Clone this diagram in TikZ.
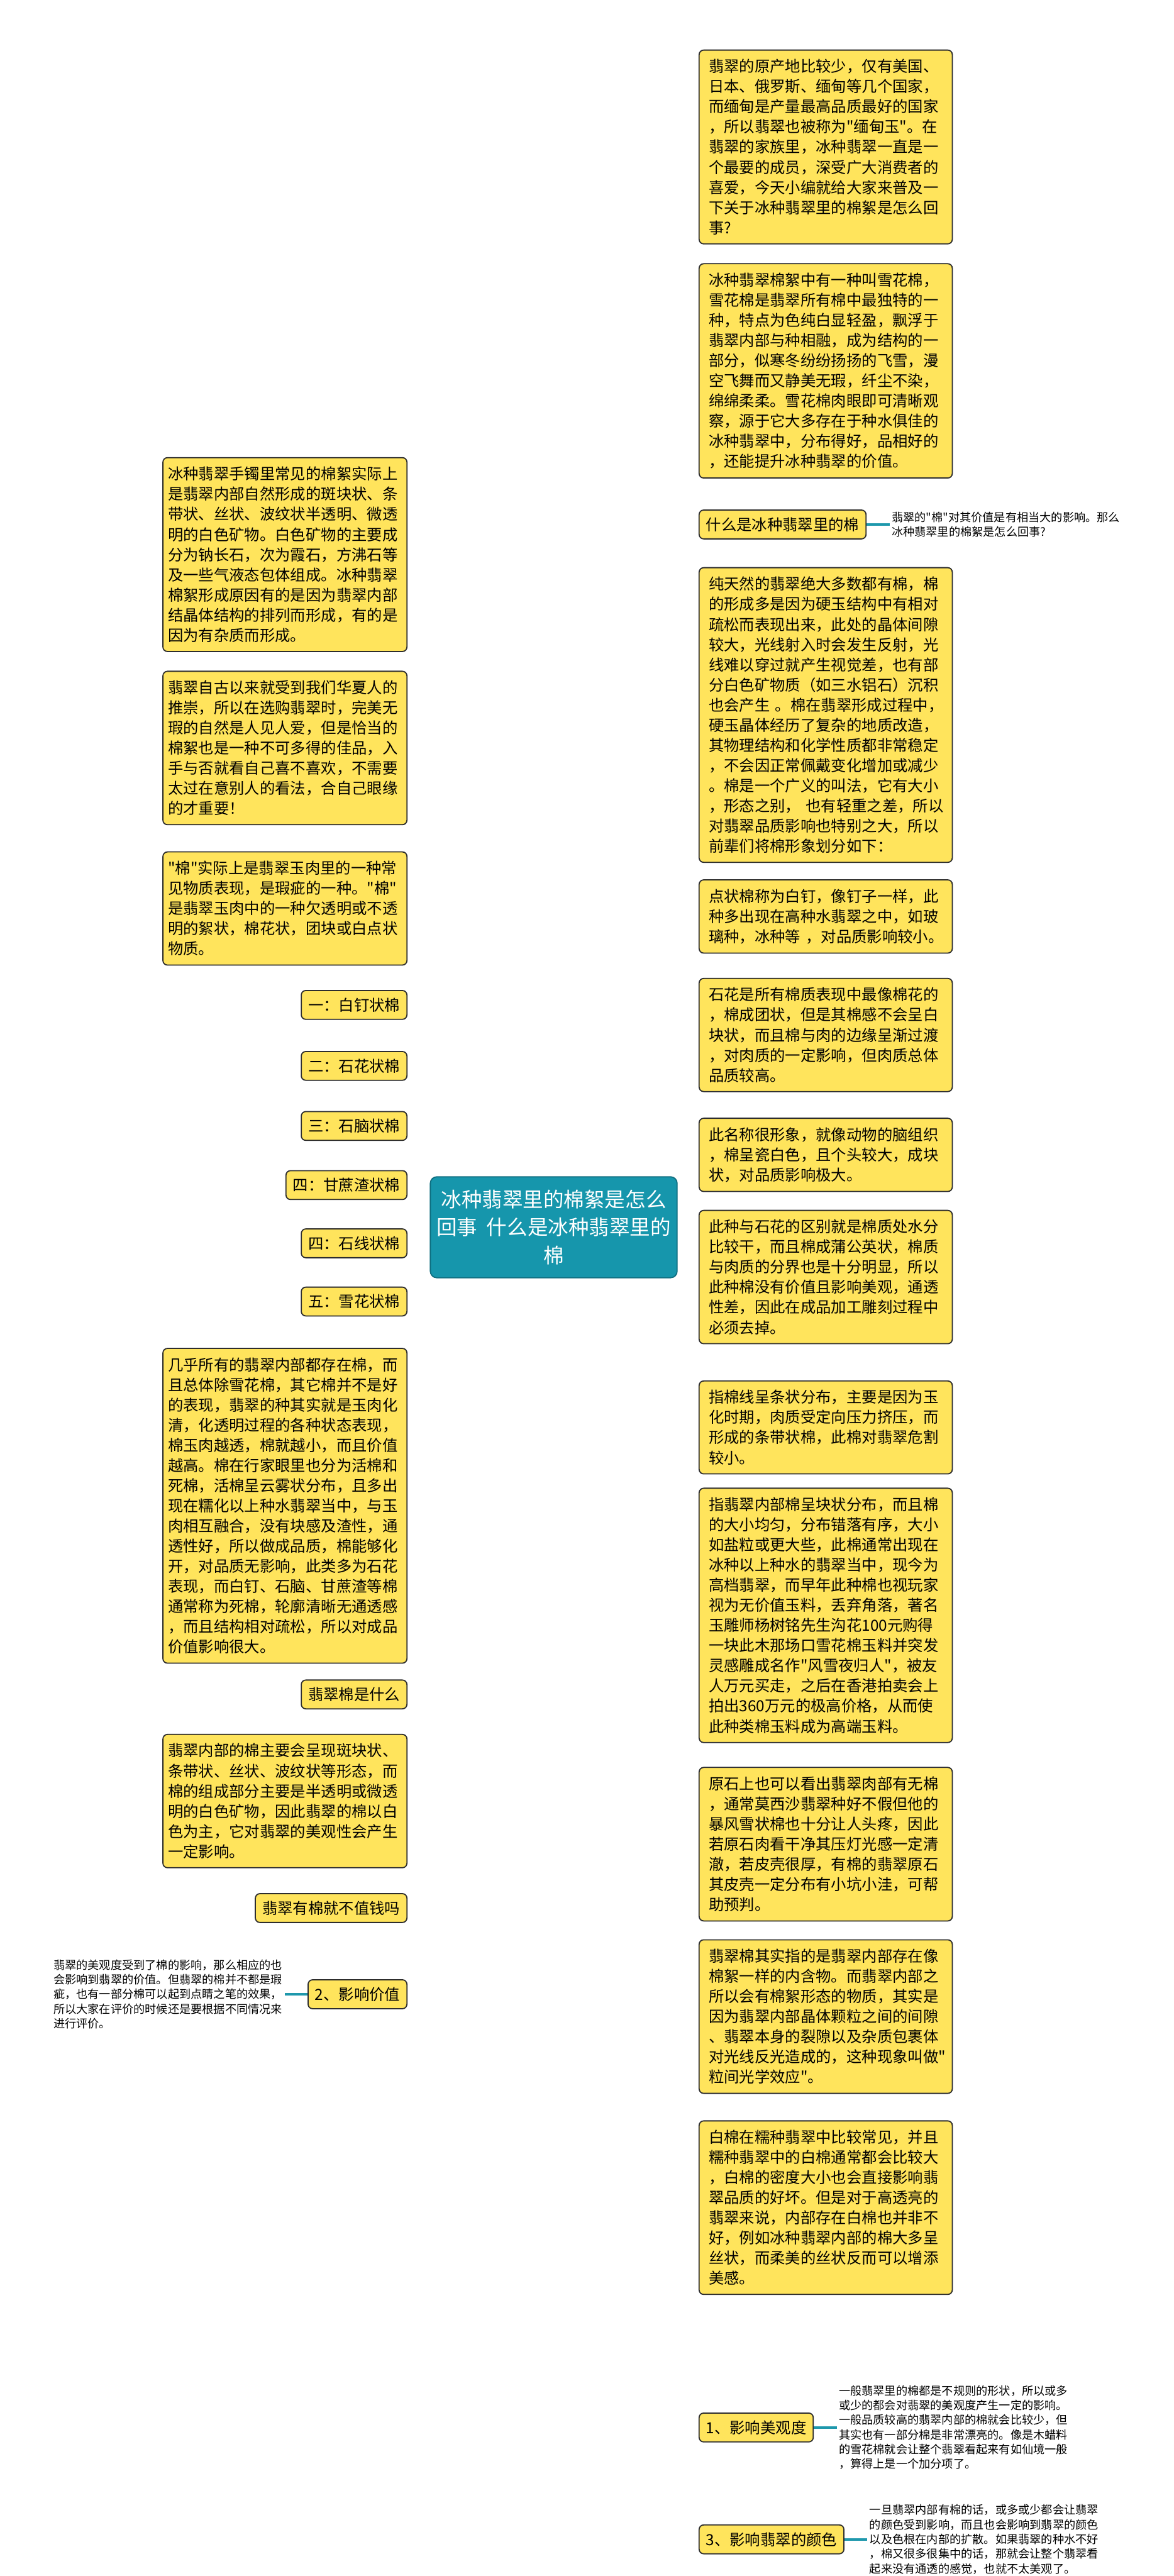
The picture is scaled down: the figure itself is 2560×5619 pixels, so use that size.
\documentclass[tikz,border=0pt]{standalone}
\usepackage{fontspec}
\setmainfont{Noto Sans CJK SC}[Ligatures=TeXOff]
\usetikzlibrary{positioning,backgrounds}
\definecolor{leafyellow}{RGB}{255,228,92}
\definecolor{edgegray}{RGB}{45,45,45}
\definecolor{linkteal}{RGB}{30,152,172}
\definecolor{rootteal}{RGB}{22,150,172}
\definecolor{rootedge}{RGB}{15,110,128}

\begin{document}
\begin{tikzpicture}[
  x=0.01cm,
  y=-0.01cm,
  leaf/.style={draw=edgegray, fill=leafyellow, line width=0.7pt, rounded corners=2.8pt, align=left, font=\fontsize{9.5}{12.5}\selectfont},
  rightleaf/.style={leaf, anchor=north west, text width=5.1cm, inner xsep=0.21cm, inner ysep=0.2cm},
  leftleaf/.style={leaf, anchor=north east, text width=5.1cm, inner xsep=0.11cm, inner ysep=0.2cm},
  tag/.style={leaf, inner xsep=0.15cm, inner ysep=0.16cm},
  sidenote/.style={align=left, font=\fontsize{7.1}{9.1}\selectfont, inner sep=0.04cm},
  link/.style={draw=linkteal, line width=1.4pt}
]
\useasboundingbox (0,0) rectangle (2560,5619);
\fill[white] (0,0) rectangle (2560,5619);

% centre
\node[fill=rootteal, draw=rootedge, line width=0.7pt, rounded corners=4pt, text=white, align=center,
  font=\fontsize{12.7}{17.4}\selectfont, minimum width=5.38cm, minimum height=2.2cm] (root) at (1208,2677)
  {冰种翡翠里的棉絮是怎么\\回事\ \ 什么是冰种翡翠里的\\棉};
\coordinate (hubR) at (1240,2677);
\coordinate (hubL) at (1180,2677);

% right side
\node[rightleaf] (r1) at (1524,108) {翡翠的原产地比较少，仅有美国、\\日本、俄罗斯、缅甸等几个国家，\\而缅甸是产量最高品质最好的国家\\，所以翡翠也被称为"缅甸玉"。在\\翡翠的家族里，冰种翡翠一直是一\\个最要的成员，深受广大消费者的\\喜爱，今天小编就给大家来普及一\\下关于冰种翡翠里的棉絮是怎么回\\事?};
\node[rightleaf] (r2) at (1524,574) {冰种翡翠棉絮中有一种叫雪花棉，\\雪花棉是翡翠所有棉中最独特的一\\种，特点为色纯白显轻盈，飘浮于\\翡翠内部与种相融，成为结构的一\\部分，似寒冬纷纷扬扬的飞雪，漫\\空飞舞而又静美无瑕，纤尘不染，\\绵绵柔柔。雪花棉肉眼即可清晰观\\察，源于它大多存在于种水俱佳的\\冰种翡翠中，分布得好，品相好的\\，还能提升冰种翡翠的价值。};
\node[tag, anchor=west] (qwhat) at (1524,1144) {什么是冰种翡翠里的棉};
\node[sidenote, right=0.5cm of qwhat] (nwhat) {翡翠的"棉"对其价值是有相当大的影响。那么\\冰种翡翠里的棉絮是怎么回事?};
\node[rightleaf] (r3) at (1524,1237) {纯天然的翡翠绝大多数都有棉，棉\\的形成多是因为硬玉结构中有相对\\疏松而表现出来，此处的晶体间隙\\较大，光线射入时会发生反射，光\\线难以穿过就产生视觉差，也有部\\分白色矿物质（如三水铝石）沉积\\也会产生~。棉在翡翠形成过程中，\\硬玉晶体经历了复杂的地质改造，\\其物理结构和化学性质都非常稳定\\，不会因正常佩戴变化增加或减少\\。棉是一个广义的叫法，它有大小\\，形态之别，~也有轻重之差，所以\\对翡翠品质影响也特别之大，所以\\前辈们将棉形象划分如下：};
\node[rightleaf] (r4) at (1524,1918) {点状棉称为白钉，像钉子一样，此\\种多出现在高种水翡翠之中，如玻\\璃种，冰种等~，对品质影响较小。};
\node[rightleaf] (r5) at (1524,2133) {石花是所有棉质表现中最像棉花的\\，棉成团状，但是其棉感不会呈白\\块状，而且棉与肉的边缘呈渐过渡\\，对肉质的一定影响，但肉质总体\\品质较高。};
\node[rightleaf] (r6) at (1524,2438) {此名称很形象，就像动物的脑组织\\，棉呈瓷白色，且个头较大，成块\\状，对品质影响极大。};
\node[rightleaf] (r7) at (1524,2639) {此种与石花的区别就是棉质处水分\\比较干，而且棉成蒲公英状，棉质\\与肉质的分界也是十分明显，所以\\此种棉没有价值且影响美观，通透\\性差，因此在成品加工雕刻过程中\\必须去掉。};
\node[rightleaf] (r8) at (1524,3011) {指棉线呈条状分布，主要是因为玉\\化时期，肉质受定向压力挤压，而\\形成的条带状棉，此棉对翡翠危割\\较小。};
\node[rightleaf] (r9) at (1524,3245) {指翡翠内部棉呈块状分布，而且棉\\的大小均匀，分布错落有序，大小\\如盐粒或更大些，此棉通常出现在\\冰种以上种水的翡翠当中，现今为\\高档翡翠，而早年此种棉也视玩家\\视为无价值玉料，丢弃角落，著名\\玉雕师杨树铭先生沟花100元购得\\一块此木那场口雪花棉玉料并突发\\灵感雕成名作"风雪夜归人"，被友\\人万元买走，之后在香港拍卖会上\\拍出360万元的极高价格，从而使\\此种类棉玉料成为高端玉料。};
\node[rightleaf] (r10) at (1524,3854) {原石上也可以看出翡翠肉部有无棉\\，通常莫西沙翡翠种好不假但他的\\暴风雪状棉也十分让人头疼，因此\\若原石肉看干净其压灯光感一定清\\澈，若皮壳很厚，有棉的翡翠原石\\其皮壳一定分布有小坑小洼，可帮\\助预判。};
\node[rightleaf] (r11) at (1524,4230) {翡翠棉其实指的是翡翠内部存在像\\棉絮一样的内含物。而翡翠内部之\\所以会有棉絮形态的物质，其实是\\因为翡翠内部晶体颗粒之间的间隙\\、翡翠本身的裂隙以及杂质包裹体\\对光线反光造成的，这种现象叫做"\\粒间光学效应"。};
\node[rightleaf] (r12) at (1524,4625) {白棉在糯种翡翠中比较常见，并且\\糯种翡翠中的白棉通常都会比较大\\，白棉的密度大小也会直接影响翡\\翠品质的好坏。但是对于高透亮的\\翡翠来说，内部存在白棉也并非不\\好，例如冰种翡翠内部的棉大多呈\\丝状，而柔美的丝状反而可以增添\\美感。};
\node[tag, anchor=west] (b1) at (1524,5295) {1、影响美观度};
\node[sidenote, right=0.5cm of b1] (nb1) {一般翡翠里的棉都是不规则的形状，所以或多\\或少的都会对翡翠的美观度产生一定的影响。\\一般品质较高的翡翠内部的棉就会比较少，但\\其实也有一部分棉是非常漂亮的。像是木蜡料\\的雪花棉就会让整个翡翠看起来有如仙境一般\\，算得上是一个加分项了。};
\node[tag, anchor=west] (b3) at (1524,5539) {3、影响翡翠的颜色};
\node[sidenote, right=0.5cm of b3] (nb3) {一旦翡翠内部有棉的话，或多或少都会让翡翠\\的颜色受到影响，而且也会影响到翡翠的颜色\\以及色根在内部的扩散。如果翡翠的种水不好\\，棉又很多很集中的话，那就会让整个翡翠看\\起来没有通透的感觉，也就不太美观了。};

% left side
\node[leftleaf] (l1) at (889,997) {冰种翡翠手镯里常见的棉絮实际上\\是翡翠内部自然形成的斑块状、条\\带状、丝状、波纹状半透明、微透\\明的白色矿物。白色矿物的主要成\\分为钠长石，次为霞石，方沸石等\\及一些气液态包体组成。冰种翡翠\\棉絮形成原因有的是因为翡翠内部\\结晶体结构的排列而形成，有的是\\因为有杂质而形成。};
\node[leftleaf] (l2) at (889,1463) {翡翠自古以来就受到我们华夏人的\\推崇，所以在选购翡翠时，完美无\\瑕的自然是人见人爱，但是恰当的\\棉絮也是一种不可多得的佳品，入\\手与否就看自己喜不喜欢，不需要\\太过在意别人的看法，合自己眼缘\\的才重要！};
\node[leftleaf] (l3) at (889,1857) {"棉"实际上是翡翠玉肉里的一种常\\见物质表现，是瑕疵的一种。"棉"\\是翡翠玉肉中的一种欠透明或不透\\明的絮状，棉花状，团块或白点状\\物质。};
\node[tag, anchor=east] (t1) at (889,2192) {一：白钉状棉};
\node[tag, anchor=east] (t2) at (889,2325) {二：石花状棉};
\node[tag, anchor=east] (t3) at (889,2456) {三：石脑状棉};
\node[tag, anchor=east] (t4) at (889,2585) {四：甘蔗渣状棉};
\node[tag, anchor=east] (t5) at (889,2712) {四：石线状棉};
\node[tag, anchor=east] (t6) at (889,2839) {五：雪花状棉};
\node[leftleaf] (l4) at (889,2940) {几乎所有的翡翠内部都存在棉，而\\且总体除雪花棉，其它棉并不是好\\的表现，翡翠的种其实就是玉肉化\\清，化透明过程的各种状态表现，\\棉玉肉越透，棉就越小，而且价值\\越高。棉在行家眼里也分为活棉和\\死棉，活棉呈云雾状分布，且多出\\现在糯化以上种水翡翠当中，与玉\\肉相互融合，没有块感及渣性，通\\透性好，所以做成品质，棉能够化\\开，对品质无影响，此类多为石花\\表现，而白钉、石脑、甘蔗渣等棉\\通常称为死棉，轮廓清晰无通透感\\，而且结构相对疏松，所以对成品\\价值影响很大。};
\node[tag, anchor=east] (qjade) at (889,3696) {翡翠棉是什么};
\node[leftleaf] (l5) at (889,3782) {翡翠内部的棉主要会呈现斑块状、\\条带状、丝状、波纹状等形态，而\\棉的组成部分主要是半透明或微透\\明的白色矿物，因此翡翠的棉以白\\色为主，它对翡翠的美观性会产生\\一定影响。};
\node[tag, anchor=east] (qworth) at (889,4162) {翡翠有棉就不值钱吗};
\node[tag, anchor=east] (b2) at (889,4350) {2、影响价值};
\node[sidenote, left=0.5cm of b2] (nb2) {翡翠的美观度受到了棉的影响，那么相应的也\\会影响到翡翠的价值。但翡翠的棉并不都是瑕\\疵，也有一部分棉可以起到点睛之笔的效果，\\所以大家在评价的时候还是要根据不同情况来\\进行评价。};

\begin{scope}[on background layer]
\foreach \n in {r1,r2,qwhat,r3,r4,r5,r6,r7,r8,r9,r10,r11,r12,b1,b3}
  \draw[link] (hubR) .. controls (hubR |- \n.west) .. (\n.west);
\foreach \n in {l1,l2,l3,t1,t2,t3,t4,t5,t6,l4,qjade,l5,qworth,b2}
  \draw[link] (hubL) .. controls (hubL |- \n.east) .. (\n.east);
\end{scope}
\draw[link] (qwhat.east) -- (nwhat.west);
\draw[link] (b1.east) -- (nb1.west);
\draw[link] (b3.east) -- (nb3.west);
\draw[link] (b2.west) -- (nb2.east);
\end{tikzpicture}
\end{document}
